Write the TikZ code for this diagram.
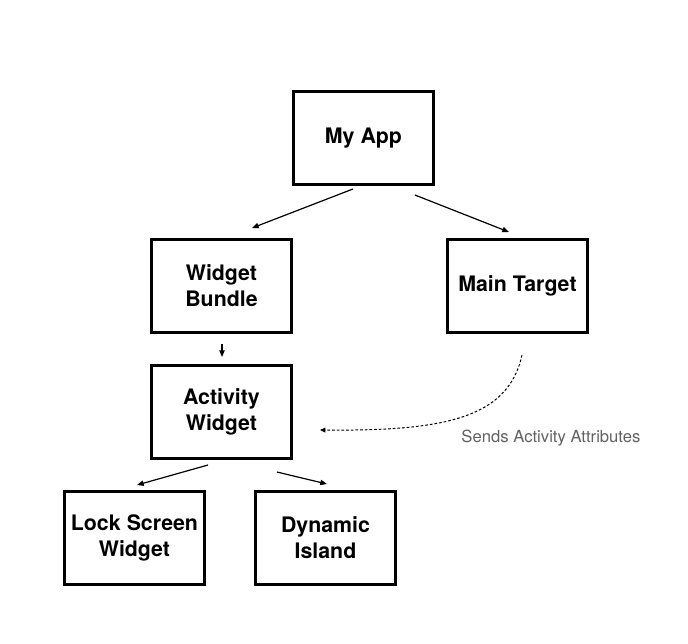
\documentclass[tikz,border=0pt]{standalone}
\usepackage{fontspec}
\setmainfont{TeX Gyre Heros}
\usetikzlibrary{positioning,calc,arrows.meta}

\begin{document}
\begin{tikzpicture}[on grid,
    box/.style={draw,line width=2.25pt,minimum width=105pt,minimum height=69.75pt,
                inner sep=0pt,align=center,font=\fontsize{16}{19.5}\selectfont\bfseries},
    link/.style={line width=0.9pt,-{Triangle[length=5pt,width=4pt]}},
    sends/.style={line width=0.75pt,dash pattern=on 2pt off 1.5pt,-{Triangle[length=4pt,width=3.5pt]}}]
    \useasboundingbox (0,0) rectangle (516pt,-482.25pt);

    \node[box] (app)      at (272.6pt,-103.5pt)           {My App};
    \node[box] (bundle)   [below left=111pt and 106.5pt of app]  {Widget\\Bundle};
    \node[box] (target)   [below right=111pt and 115.5pt of app] {Main Target};
    \node[box] (activity) [below=94.5pt of bundle]                 {Activity\\Widget};
    \node[box] (lock)     [below left=94.5pt and 65.25pt of activity] {Lock Screen\\Widget};
    \node[box] (island)   [below right=94.5pt and 78pt of activity]   {Dynamic\\Island};

    \draw[link] ($(app.center)+(-7.9pt,-38.25pt)$)   -- ($(bundle.center)+(22.9pt,43.5pt)$);
    \draw[link] ($(app.center)+(38.6pt,-42.75pt)$)   -- ($(target.center)+(-6.4pt,40.5pt)$);
    \draw[link] ($(bundle.center)+(0.4pt,-43.5pt)$)  -- ($(activity.center)+(0.4pt,41.25pt)$);
    \draw[link] ($(activity.center)+(-10.1pt,-39.75pt)$) -- ($(lock.center)+(1.9pt,39.75pt)$);
    \draw[link] ($(activity.center)+(41.6pt,-45pt)$)  -- ($(island.center)+(1.1pt,40.5pt)$);

    % attributes go from the main target to the widget
    \draw[sends] ($(target.center)+(3.4pt,-51.75pt)$)
        .. controls ($(target.center)+(-7.1pt,-100.5pt)$) and ($(activity.center)+(163.9pt,-14.25pt)$)
        .. ($(activity.center)+(73.9pt,-13.5pt)$);
    \node[text=black!62,font=\fontsize{12.5}{15}\selectfont] (label)
        at ($(target.center)+(25.1pt,-114pt)$) {Sends Activity Attributes};
\end{tikzpicture}
\end{document}
